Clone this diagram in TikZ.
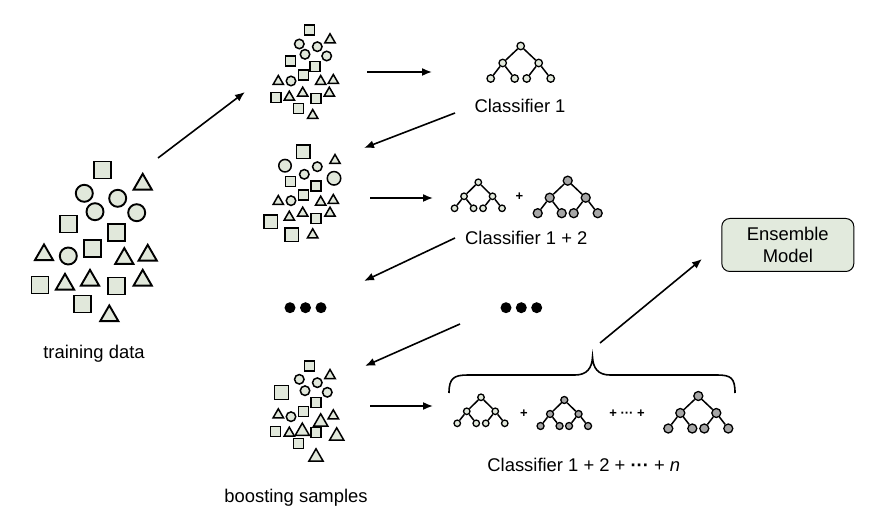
\documentclass[tikz,border=0pt]{standalone}
\usepackage{fontspec}
\setmainfont{Liberation Sans}
\usetikzlibrary{arrows.meta,shapes.geometric,trees,positioning}

\definecolor{shapefill}{HTML}{E1E8DB}
\definecolor{nodegray}{HTML}{A6A6A6}
\definecolor{boxfill}{HTML}{E2EADD}

\tikzset{
	sqr/.style  = {rectangle, draw=black, fill=shapefill, inner sep=0pt, minimum size=#1},
	crc/.style  = {circle, draw=black, fill=shapefill, inner sep=0pt, minimum size=#1},
	tri/.style  = {regular polygon, regular polygon sides=3, draw=black, fill=shapefill, inner sep=0pt, minimum size=#1, yshift=-#1/8},
	tl/.style   = {circle, draw=black, fill=shapefill, inner sep=0pt, line width=1.3pt, minimum size=#1},
	tg/.style   = {circle, draw=black, fill=nodegray, inner sep=0pt, line width=1.3pt, minimum size=#1},
	bigtree/.style   = {level 1/.style={sibling distance=36pt, level distance=17pt},
	                    level 2/.style={sibling distance=24pt, level distance=15.5pt}},
	smalltree/.style = {level 1/.style={sibling distance=28.5pt, level distance=14pt},
	                    level 2/.style={sibling distance=19pt, level distance=12pt}},
	lbl/.style  = {font=\fontsize{18.4}{22}\selectfont, inner sep=0pt},
	plus/.style = {font=\fontsize{13}{15}\bfseries, inner sep=0pt},
	arr/.style  = {line width=1.6pt, -{Latex[length=10pt,width=8pt]}},
}

\begin{document}
\begin{tikzpicture}[x=1pt, y=-1pt, edge from parent/.style={draw, line width=1.5pt}]
	\useasboundingbox (0,0) rectangle (869,526);

	% training data
	\begin{scope}[line width=1.9pt]
		\foreach \p [count=\i] in {(102.7,170),(68.3,224),(116.7,232.7),(92.7,248.3),(40,285),(116.7,286),(82.7,304)}
			\node[sqr=17pt] (tsq\i) at \p {};
		\foreach \p [count=\i] in {(84.3,193.3),(117.7,198.3),(95,211.7),(136.7,212.7),(68.3,256)}
			\node[crc=17pt] (tci\i) at \p {};
		\foreach \p [count=\i] in {(142.7,181.7),(44,252.3),(124.3,256),(147.7,252.7),(65,281.7),(90,277.7),(142.7,277.7),(109.3,313.3)}
			\node[tri=21pt] (ttr\i) at \p {};
	\end{scope}
	\node[lbl, anchor=base] (tdata) at (94,358) {training data};

	% boosting sample 1
	\begin{scope}[line width=1.5pt]
		\foreach \p [count=\i] in {(309.3,30),(290.7,61),(315,66.7),(303.3,75),(276,97.3),(316,98.3),(298.3,108.3)}
			\node[sqr=10pt] (asq\i) at \p {};
		\foreach \p [count=\i] in {(299.3,44),(317.3,46.7),(305,54.3),(326.7,56),(291,81)}
			\node[crc=9.5pt] (aci\i) at \p {};
		\foreach \p [count=\i] in {(330,38.3),(278.3,80),(320.7,80),(333.3,79),(289.3,95.7),(302.7,91.7),(329.3,91.7),(312.7,114)}
			\node[tri=12pt] (atr\i) at \p {};
	\end{scope}

	% boosting sample 2
	\begin{scope}[line width=1.5pt]
		\foreach \p [count=\i] in {(290.7,181.7),(316,186),(303.3,195),(316,218.3)}
			\node[sqr=10pt] (bsq\i) at \p {};
		\foreach \p [count=\i] in {(303.3,151.7),(270.7,221.7),(291.7,235)}
			\node[sqr=13.5pt] (bSq\i) at \p {};
		\foreach \p [count=\i] in {(317.3,166.7),(304.3,174.3),(291,200.7)}
			\node[crc=9.5pt] (bci\i) at \p {};
		\node[crc=12.5pt] (bCi1) at (285,165.7) {};
		\node[crc=13.5pt] (bCi2) at (334,178.3) {};
		\foreach \p [count=\i] in {(335,159),(278.3,200),(320.7,200.7),(333.3,199),(289.3,215.7),(302.7,211.7),(330,211.7),(312.7,233.3)}
			\node[tri=12pt] (btr\i) at \p {};
	\end{scope}

	% boosting sample n
	\begin{scope}[line width=1.5pt]
		\foreach \p [count=\i] in {(309.3,366),(316,402.7),(303.3,411.7),(275.7,431.7),(316,432.7),(298.3,443.3)}
			\node[sqr=10pt] (nsq\i) at \p {};
		\node[sqr=14pt] (nSq1) at (281.7,392.7) {};
		\foreach \p [count=\i] in {(299.3,379.3),(317.3,382.7),(305,390.7),(327.3,392.3),(291,416.7)}
			\node[crc=9.5pt] (nci\i) at \p {};
		\foreach \p [count=\i] in {(330,374),(278.3,413.3),(333.3,414.3),(289.3,431.7)}
			\node[tri=12pt] (ntr\i) at \p {};
		\foreach \p [count=\i] in {(320.7,420),(302.3,429.3),(336.7,434),(316,455)}
			\node[tri=16.5pt] (nTr\i) at \p {};
	\end{scope}
	\node[lbl, anchor=base] (bsamp) at (296,502.7) {boosting samples};

	% dots
	\foreach \x [count=\i] in {290,305.5,321}
		\fill (\x,307.7) circle (5.5pt);
	\foreach \x [count=\i] in {506,521.3,536.7}
		\fill (\x,307.7) circle (5.5pt);

	% classifier 1
	\node[tl=7.5pt] (ca) at (520.7,46) {} [bigtree, every child node/.style={tl=7.5pt}]
		child foreach \i in {1,2} {node {} child foreach \j in {1,2} {node {}}};
	\node[lbl, anchor=base] (cla) at (520,113) {Classifier 1};

	% classifier 1 + 2
	\node[tl=6.5pt] (cb) at (478.3,182.3) {} [smalltree, every child node/.style={tl=6.5pt}]
		child foreach \i in {1,2} {node {} child foreach \j in {1,2} {node {}}};
	\node[plus] (pb) at (519.3,196.7) {+};
	\node[tg=9pt] (cc) at (567.7,180.7) {} [bigtree, every child node/.style={tg=9pt}]
		child foreach \i in {1,2} {node {} child foreach \j in {1,2} {node {}}};
	\node[lbl, anchor=base] (clb) at (526.3,245) {Classifier 1 + 2};

	% classifier 1 + 2 + ... + n
	\node[tl=6.5pt] (cd) at (481,397.3) {} [smalltree, every child node/.style={tl=6.5pt}]
		child foreach \i in {1,2} {node {} child foreach \j in {1,2} {node {}}};
	\node[plus] (pd) at (524,413.3) {+};
	\node[tg=7pt] (ce) at (564.3,400) {} [smalltree, every child node/.style={tg=7pt}]
		child foreach \i in {1,2} {node {} child foreach \j in {1,2} {node {}}};
	\node[plus] (pe) at (627,413.3) {+ ··· +};
	\node[tg=9pt] (cf) at (698.3,396) {} [bigtree, every child node/.style={tg=9pt}]
		child foreach \i in {1,2} {node {} child foreach \j in {1,2} {node {}}};
	\node[lbl, anchor=base] (cln) at (583.8,471.7) {Classifier 1 + 2 + {\bfseries ···} + \textit{n}};

	% brace
	\draw[line width=1.6pt] (449,393) .. controls (449,378) and (454,375) .. (468,375) -- (575,375)
		.. controls (587,375) and (592,368) .. (592.5,357) .. controls (593,368) and (598,375) .. (610,375)
		-- (717,375) .. controls (731,375) and (735,378) .. (735,393);

	% ensemble
	\node[lbl, draw, fill=boxfill, line width=1pt, rounded corners=8pt, minimum width=132pt, minimum height=53pt, align=center] (ens) at (787.8,245) {Ensemble\\Model};

	% arrows
	\coordinate (tdout) at (158,158);  \coordinate (ain)  at (245,92);
	\coordinate (aout)  at (367,72);   \coordinate (cain) at (432,72);
	\coordinate (caout) at (455,113);  \coordinate (bin)  at (364,148);
	\coordinate (bout)  at (370,198);  \coordinate (cbin) at (433,198);
	\coordinate (cbout) at (455,238);  \coordinate (din)  at (364,281);
	\coordinate (dout)  at (460,324);  \coordinate (nin)  at (365,366);
	\coordinate (nout)  at (370,406);  \coordinate (cdin) at (433,406);
	\coordinate (brtip) at (600,343);  \coordinate (ensin) at (702,259);
	\draw[arr] (tdout) -- (ain);
	\draw[arr] (aout) -- (cain);
	\draw[arr] (caout) -- (bin);
	\draw[arr] (bout) -- (cbin);
	\draw[arr] (cbout) -- (din);
	\draw[arr] (dout) -- (nin);
	\draw[arr] (nout) -- (cdin);
	\draw[arr] (brtip) -- (ensin);
\end{tikzpicture}
\end{document}
